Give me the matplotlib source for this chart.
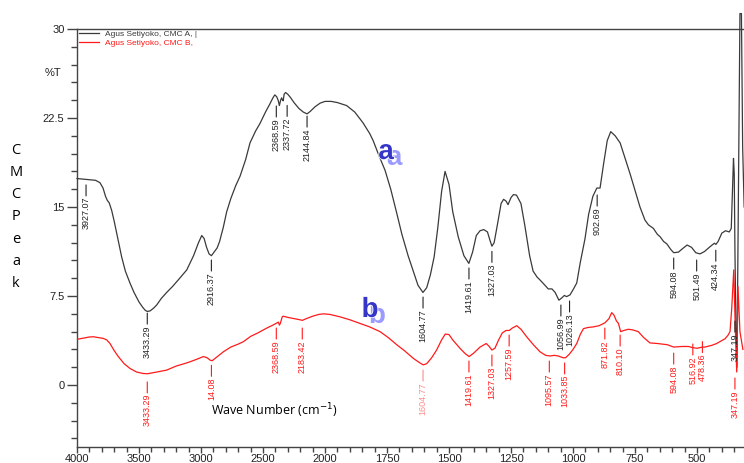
import numpy as np
import matplotlib
matplotlib.use("Agg")
import matplotlib.pyplot as plt
from matplotlib import patheffects as pe
from matplotlib.ticker import FixedLocator, FixedFormatter
from matplotlib.transforms import offset_copy

plt.rcParams['font.family'] = ['Liberation Sans', 'DejaVu Sans']

# ---------------- data ----------------
black_wn = [4000, 3950, 3900, 3850, 3815, 3790, 3770, 3755, 3740, 3720, 3700, 3680, 3660, 3640,
            3610, 3573, 3540, 3500, 3470, 3450, 3433, 3410, 3380, 3357, 3320, 3277, 3230, 3180,
            3115, 3060, 3020, 2994, 2975, 2955, 2935, 2916, 2895, 2870, 2850, 2820, 2793, 2760,
            2720, 2685, 2640, 2605, 2560, 2524, 2480, 2444, 2420, 2405, 2390, 2378, 2368, 2358,
            2350, 2342, 2337, 2330, 2318, 2300, 2280, 2250, 2210, 2175, 2145, 2120, 2080, 2040,
            2000, 1975, 1950, 1913, 1880, 1847, 1820, 1806, 1780, 1758, 1735, 1711, 1690, 1665,
            1644, 1625, 1605, 1590, 1575, 1560, 1545, 1530, 1516, 1500, 1485, 1463, 1440, 1420,
            1405, 1390, 1375, 1360, 1345, 1335, 1327, 1318, 1305, 1290, 1280, 1270, 1262, 1250,
            1240, 1228, 1210, 1194, 1175, 1161, 1145, 1133, 1115, 1100, 1085, 1072, 1057, 1045,
            1035, 1026, 1012, 998, 985, 971, 952, 937, 920, 904, 891, 877, 862, 848, 830, 810,
            790, 770, 750, 730, 710, 696, 676, 660, 649, 635, 622, 605, 594, 575, 555, 540, 522,
            505, 488, 470, 448, 430, 424, 415, 400, 385, 370, 362, 357, 353, 350, 347, 343, 339,
            333, 327, 321, 316, 310]
black_T = [17.4, 17.35, 17.3, 17.25, 17.05, 16.6, 15.9, 15.55, 15.35, 14.7, 13.8, 12.8, 11.8, 10.8,
           9.6, 8.6, 7.8, 7.0, 6.55, 6.3, 6.2, 6.25, 6.5, 6.75, 7.3, 7.8, 8.3, 8.9,
           9.7, 10.9, 12.0, 12.6, 12.35, 11.6, 11.05, 10.9, 11.2, 11.55, 12.1, 13.3, 14.6, 15.7,
           16.8, 17.6, 19.0, 20.4, 21.4, 22.05, 23.0, 23.7, 24.2, 24.45, 24.3, 24.0, 23.55, 24.0,
           24.2, 24.0, 23.95, 24.5, 24.65, 24.5, 24.25, 23.8, 23.3, 23.0, 22.85, 23.05, 23.45, 23.75,
           23.9, 23.9, 23.8, 23.55, 23.0, 22.1, 21.2, 20.6, 19.2, 18.1, 16.5, 14.5, 12.7, 10.9,
           9.6, 8.4, 7.8, 8.2, 9.3, 10.8, 13.3, 16.3, 18.0, 16.9, 14.6, 12.5, 10.9, 10.25,
           11.2, 12.6, 13.0, 13.1, 12.9, 12.2, 11.7, 12.0, 13.5, 15.3, 15.65, 15.5, 15.2, 15.8,
           16.05, 16.0, 15.3, 13.4, 10.9, 9.6, 9.1, 8.85, 8.45, 8.1, 8.1, 7.8, 7.15, 7.35,
           7.55, 7.45, 7.6, 8.1, 8.6, 10.3, 12.3, 14.4, 15.9, 16.6, 16.6, 18.6, 20.6, 21.35, 21.0, 20.4,
           19.1, 17.8, 16.4, 15.0, 13.9, 13.5, 13.2, 12.7, 12.5, 12.1, 11.9, 11.4, 11.15, 11.2, 11.55, 11.8, 11.6,
           11.15, 11.05, 11.25, 11.65, 11.95, 11.85, 12.1, 12.8, 13.0, 12.9, 13.2, 16.5, 19.1, 17.8, 11.0, 5.0, 1.5,
           16.0, 31.3, 31.3, 20.0, 15.0]

red_wn = [4000, 3950, 3900, 3868, 3830, 3788, 3760, 3734, 3700, 3667, 3620, 3573, 3520, 3470, 3433,
          3380, 3330, 3277, 3200, 3120, 3089, 3040, 2981, 2950, 2927, 2910, 2880, 2850, 2820, 2760,
          2700, 2659, 2600, 2540, 2470, 2420, 2376, 2368, 2360, 2345, 2336, 2300, 2250, 2202, 2183,
          2150, 2100, 2050, 2013, 1980, 1940, 1900, 1860, 1820, 1778, 1745, 1711, 1680, 1644, 1620,
          1604, 1590, 1570, 1550, 1530, 1515, 1500, 1485, 1456, 1435, 1419, 1400, 1375, 1350, 1340,
          1327, 1315, 1300, 1285, 1270, 1257, 1245, 1227, 1210, 1187, 1160, 1133, 1110, 1093, 1075,
          1060, 1040, 1030, 1015, 1000, 985, 970, 958, 940, 918, 895, 871, 855, 844, 835, 825, 817,
          808, 795, 777, 760, 737, 715, 690, 660, 620, 594, 560, 535, 517, 500, 478, 468, 440, 421,
          400, 387, 375, 367, 360, 352, 346, 340, 335, 327, 315]
red_T = [3.85, 3.95, 4.05, 4.07, 4.0, 3.93, 3.8, 3.5, 2.9, 2.4, 1.8, 1.4, 1.1, 0.98, 0.95,
         1.05, 1.15, 1.26, 1.6, 1.85, 1.96, 2.15, 2.4, 2.3, 2.1, 2.05, 2.3, 2.55, 2.8, 3.2,
         3.45, 3.65, 4.1, 4.4, 4.8, 5.05, 5.3, 5.05, 5.2, 5.75, 5.8, 5.7, 5.6, 5.5, 5.45,
         5.6, 5.8, 5.95, 6.0, 5.95, 5.75, 5.5, 5.2, 4.9, 4.5, 4.0, 3.4, 2.9, 2.25, 1.9,
         1.7, 1.8, 2.3, 2.95, 3.8, 4.3, 4.25, 3.8, 3.1, 2.65, 2.4, 2.7, 3.2, 3.5, 3.3,
         2.95, 3.1, 3.8, 4.4, 4.6, 4.6, 4.8, 5.0, 4.7, 4.07, 3.4, 2.8, 2.5, 2.45, 2.5,
         2.45, 2.3, 2.3, 2.6, 3.0, 3.5, 4.3, 4.75, 4.85, 4.9, 5.0, 5.25, 5.6, 6.1, 5.9, 5.4, 5.2,
         4.5, 4.6, 4.7, 4.65, 4.5, 4.0, 3.55, 3.5, 3.4, 3.2, 3.25, 3.25, 3.15, 3.1, 3.2, 3.2, 3.35, 3.5,
         3.75, 3.9, 4.2, 4.5, 6.5, 9.7, 5.0, 1.1, 8.3, 4.5, 3.0]

black_peaks = [3927.07, 3433.29, 2916.37, 2368.59, 2337.72, 2144.84, 1604.77, 1419.61, 1327.03,
               1056.99, 1026.13, 902.69, 594.08, 501.49, 424.34, 347.19]
black_peak_T = [17.2, 6.4, 10.87, 23.85, 23.9, 23.0, 7.75, 10.2, 11.6,
                7.08, 7.42, 16.35, 11.04, 10.87, 11.7, 5.73]
black_peak_txt = ["3927.07", "3433.29", "2916.37", "2368.59", "2337.72", "2144.84", "1604.77",
                  "1419.61", "1327.03", "1056.99", "1026.13", "902.69", "594.08", "501.49",
                  "424.34", "347.19"]

red_peaks = [3433.29, 2916.0, 2368.59, 2183.42, 1604.77, 1419.61, 1327.03, 1257.59, 1095.57,
             1033.85, 871.82, 810.10, 594.08, 516.92, 478.36, 347.19]
red_peak_T = [0.6, 2.0, 5.14, 5.14, 1.6, 2.36, 2.87, 4.55, 2.36,
              2.2, 5.14, 4.55, 3.03, 3.8, 4.0, 0.93]
red_peak_txt = ["3433.29", "14.08", "2368.59", "2183.42", "1604.77", "1419.61", "1327.03",
                "1257.59", "1095.57", "1033.85", "871.82", "810.10", "594.08", "516.92",
                "478.36", "347.19"]

x_major = [4000, 3500, 3000, 2500, 2000, 1750, 1500, 1250, 1000, 750, 500]
y_major = [0, 7.5, 15, 22.5, 30]
y_major_lbl = ["0", "7.5", "15", "22.5", "30"]
legend_labels = ["Agus Setiyoko, CMC A, |", "Agus Setiyoko, CMC B,"]

# ---------------- figure ----------------
W, H = 744, 463
fig = plt.figure(figsize=(W / 100, H / 100), dpi=100)
ax = fig.add_axes([77 / W, 16 / H, 671 / W, 418 / H])


def fwd(w):
    w = np.asarray(w, dtype=float)
    return np.where(w >= 2000, w, 2 * w - 2000)


def inv(u):
    u = np.asarray(u, dtype=float)
    return np.where(u >= 2000, u, (u + 2000) / 2)


ax.set_xscale('function', functions=(fwd, inv))

BLACK = '#3a3a3a'
RED = '#ff1a1a'
lb, = ax.plot(black_wn, black_T, color=BLACK, lw=0.9, clip_on=False, zorder=3)
lr, = ax.plot(red_wn, red_T, color=RED, lw=0.9, zorder=3)

ax.set_xlim(4000, 294.5)
ax.set_ylim(-5.22, 30)

# ticks
ax.xaxis.set_major_locator(FixedLocator(x_major))
ax.xaxis.set_major_formatter(FixedFormatter([str(v) for v in x_major]))
minor_x = [v for v in range(3900, 2000, -100)] + [v for v in range(1950, 290, -50)]
minor_x = [v for v in minor_x if v not in x_major]
ax.xaxis.set_minor_locator(FixedLocator(minor_x))
ax.yaxis.set_major_locator(FixedLocator(y_major))
ax.yaxis.set_major_formatter(FixedFormatter(y_major_lbl))
minor_y = [v for v in np.arange(-4.5, 30, 1.5) if not any(abs(v - m) < 1e-6 for m in y_major)]
ax.yaxis.set_minor_locator(FixedLocator(minor_y))
ax.tick_params(axis='both', which='major', direction='out', width=1,
               color='#444444', labelsize=8, labelcolor='#222222')
ax.tick_params(axis='x', which='major', length=4.5, pad=0.8)
ax.tick_params(axis='y', which='major', length=7.5, pad=1.5)
ax.tick_params(axis='both', which='minor', direction='out', length=3.5, width=1, color='#444444')
ax.tick_params(axis='y', which='minor', length=4.5)

for s in ['left', 'bottom', 'top']:
    ax.spines[s].set_color('#444444')
    ax.spines[s].set_linewidth(1.0)
ax.spines['right'].set_visible(False)

# peak labels
PX = 0.72  # points per pixel
nudge = {"2368.59": -3, "2337.72": 4, "1056.99": 2, "1026.13": 3}


def peak_label(wn, T, txt, color, alpha=1.0):
    dx = nudge.get(txt, 0) * PX
    trans = offset_copy(ax.transData, fig=fig, x=dx, y=0, units='points')
    ax.annotate('', xy=(wn, T), xycoords=trans, xytext=(0, -15 * PX),
                textcoords='offset points',
                arrowprops=dict(arrowstyle='-', color=color, lw=0.8, shrinkA=0,
                                shrinkB=4 * PX, alpha=alpha), annotation_clip=False)
    ax.annotate(txt, xy=(wn, T), xycoords=trans, xytext=(0, -16 * PX),
                textcoords='offset points',
                rotation=90, ha='center', va='top', fontsize=6.5, color=color,
                alpha=alpha, annotation_clip=False)


for wn, T, t in zip(black_peaks, black_peak_T, black_peak_txt):
    peak_label(wn, T, t, '#222222')
for wn, T, t in zip(red_peaks, red_peak_T, red_peak_txt):
    peak_label(wn, T, t, RED, alpha=0.5 if t == "1604.77" else 1.0)

# legend
leg = ax.legend([lb, lr], legend_labels, loc='upper left', bbox_to_anchor=(0.002, 0.999),
                frameon=False, fontsize=6, handlelength=2.4, handletextpad=0.7,
                labelspacing=0.15, borderpad=0.1, borderaxespad=0.0, labelcolor='linecolor')

# texts
fig.text(53 / W, 1 - 73 / H, '%T', ha='center', va='center', fontsize=8, color='#222222')
for i, ch in enumerate("CMCPeak"):
    fig.text(16 / W, 1 - (150 + i * 22.3) / H, ch, ha='center', va='center',
             fontsize=10.5, family=['Open Sans', 'DejaVu Sans'], color='black')
fig.text(211 / W, 1 - 411 / H, 'Wave Number (cm$^{-1}$)', ha='left', va='center',
         fontsize=9, family=['Open Sans', 'DejaVu Sans'], color='black')

# a / b markers
for txt, (xd, yd), (xl, yl) in [('a', (386, 152), (394, 158)), ('b', (370, 310), (377, 316))]:
    fig.text(xl / W, 1 - yl / H, txt, ha='center', va='center', fontsize=20,
             fontweight='bold', color='#9a9aff', family=['Liberation Sans', 'DejaVu Sans'])
    fig.text(xd / W, 1 - yd / H, txt, ha='center', va='center', fontsize=20,
             fontweight='bold', color='#3535c8', family=['Liberation Sans', 'DejaVu Sans'],
             path_effects=[pe.withStroke(linewidth=1.2, foreground='white')])

fig.savefig('out.png', dpi=100)
